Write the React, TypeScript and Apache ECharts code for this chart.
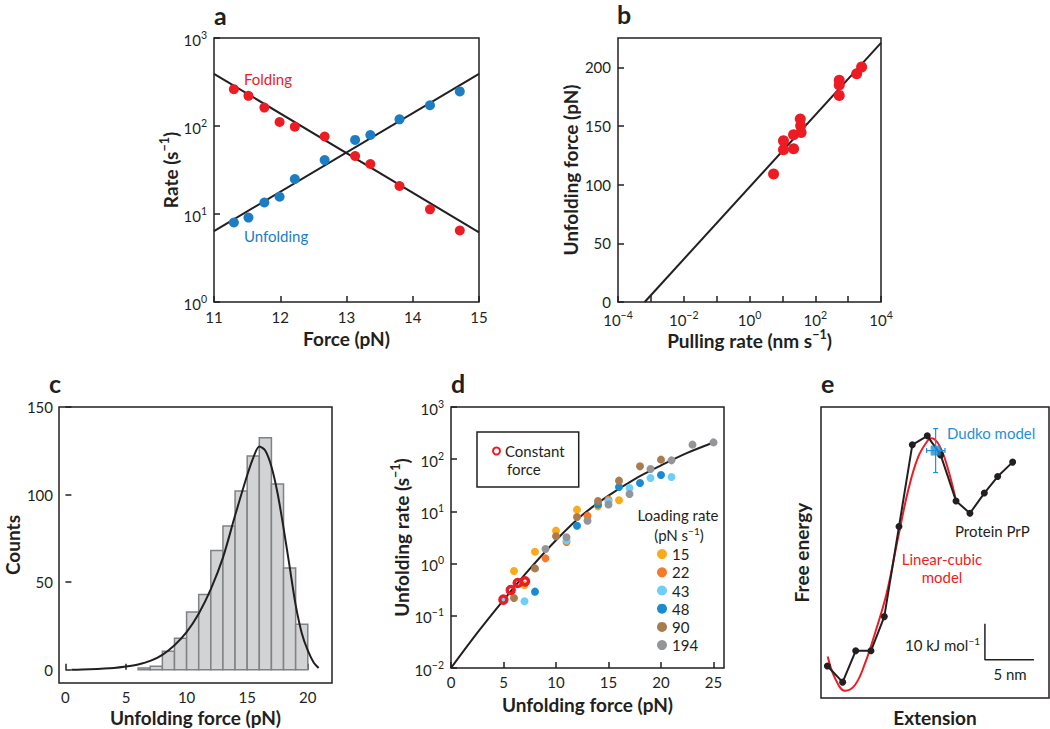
import React, { useEffect, useRef } from 'react';
import * as echarts from 'echarts';

const FONT = 'Lato';
const INK = '#231f20';
const RED = '#ed1c24';
const BLUE_A = '#1c7dc3';
const BLUE_E = '#1f8fd6';

// ---------- Panel a ----------
const aForce = [11.3, 11.52, 11.76, 11.99, 12.22, 12.67, 13.13, 13.36, 13.8, 14.26, 14.71];
const aFolding = [262, 220, 162, 111, 98, 76, 45.6, 37, 20.8, 11.3, 6.5];
const aUnfolding = [8.0, 9.1, 13.5, 15.7, 25, 41, 69.5, 79, 119, 172, 247];
const aFitForce = [11, 15];
const aFoldingFit = [392, 6.2];
const aUnfoldingFit = [6.4, 392];

// ---------- Panel b ----------
const bRate = [5.4, 10.8, 10.8, 21.9, 21.9, 35, 36, 37, 537, 537, 537, 1820, 2570];
const bForce = [109, 137.4, 129.7, 142.5, 130.6, 155.9, 150.2, 144.5, 189, 185, 176.1, 194.6, 200.3];
const bFitRate = [6.5e-4, 1e4];
const bFitForce = [0, 220.8];

// ---------- Panel c ----------
const cBinStart = [6, 7, 8, 9, 10, 11, 12, 13, 14, 15, 16, 17, 18, 19];
const cBinWidth = 1;
const cCounts = [1, 2, 10.5, 18, 33, 43, 68, 82, 102, 122, 132.5, 106, 58, 26];
const cFitForce = [0.5, 2, 4, 5, 6, 7, 8, 9, 10, 11, 12, 13, 14, 15, 15.5, 16, 16.5, 17, 17.5, 18, 18.5, 19, 19.5, 20, 20.5, 20.9];
const cFitCounts = [0, 0.3, 1, 1.8, 3, 5, 8.5, 14, 21.5, 32, 46, 64, 88, 111, 121, 127.5, 125, 116, 101, 81, 59, 37, 21, 11, 4, 1];

// ---------- Panel d ----------
const dCurveForce = [0, 2.5, 5, 7.5, 10, 12.5, 15, 17.5, 20, 22.5, 25];
const dCurveRate = [0.01, 0.047, 0.2, 0.79, 2.8, 8.5, 20, 41.7, 76, 132, 209];
const dLoadingRates = ['15', '22', '43', '48', '90', '194'];
const dColors = ['#fbaa19', '#f47a2a', '#6dcff6', '#1b8bd0', '#a97c50', '#939598'];
const d15Force = [6, 7, 8, 10, 12, 14, 16];
const d15Rate = [0.72, 0.39, 1.69, 4.28, 10.8, 12.5, 16.3];
const d22Force = [9, 11, 13, 15];
const d22Rate = [1.26, 2.59, 8.2, 16.8];
const d43Force = [5, 7, 11, 15, 17, 19, 21];
const d43Rate = [0.2, 0.19, 2.79, 15.6, 28, 43.6, 45.6];
const d48Force = [8, 12, 14, 16, 18, 20];
const d48Rate = [0.29, 5.3, 13.6, 29.3, 35, 49.8];
const d90Force = [6, 8, 10, 12, 14, 16, 18, 20];
const d90Rate = [0.22, 0.81, 3.33, 7.8, 15.8, 38.8, 73, 98];
const d194Force = [9, 11, 13, 15, 17, 19, 21, 23, 25];
const d194Rate = [1.9, 3.2, 6.6, 13.6, 21.5, 65, 95, 190, 210];
const dConstForce = [4.99, 5.69, 6.35, 7.05];
const dConstRate = [0.204, 0.312, 0.425, 0.457];

// ---------- Panel e ----------
const eXMax = 23.27; // nm shown in frame
const eYMax = 80.8; // kJ/mol shown in frame
const eProfileX = [0.65, 2.21, 3.54, 5.1, 6.46, 7.96, 9.32, 10.85, 12.21, 13.78, 15.2, 16.67, 18.03, 19.56];
const eProfileG = [8.9, 4.4, 13.1, 13.1, 22.6, 47.6, 70.3, 72.8, 67.5, 54.7, 51.3, 56.9, 61.5, 65.5];
const eModelX = [0.68, 1.43, 2.45, 3.47, 4.49, 5.51, 6.7, 7.89, 8.91, 9.93, 10.95, 11.3, 12.14, 12.99, 13.78];
const eModelG = [11.5, 5.5, 2.0, 3.6, 9.6, 18.0, 29.1, 44.8, 57.8, 67.0, 71.7, 72.1, 69.8, 63.3, 54.8];
const eDudko = [11.7, 68.7];
const eDudkoXErr = [10.78, 12.65];
const eDudkoYErr = [62.6, 74.8];
const eScaleBarX = [16.73, 16.73, 21.73];
const eScaleBarY = [20.6, 10.6, 10.6];

const zip = (xs: number[], ys: number[]) => xs.map((x, i) => [x, ys[i]]);

const TICK_FS = 15;
const NAME_FS = 19;
const TEXT_FS = 15;

const supText = (v: number) => {
  const e = Math.round(Math.log10(v));
  return `{b|10}{s|${e < 0 ? '\u2212' + -e : e}}`;
};
const labelRich = {
  b: { fontSize: TICK_FS, fontFamily: FONT, color: INK, lineHeight: 18, verticalAlign: 'bottom' },
  s: { fontSize: 10.5, fontFamily: FONT, color: INK, lineHeight: 10, verticalAlign: 'top' },
};
const nameRich = {
  n: { fontSize: NAME_FS, fontFamily: FONT, fontWeight: 'bold', color: INK, lineHeight: 22, verticalAlign: 'bottom' },
  s: { fontSize: 12.5, fontFamily: FONT, fontWeight: 'bold', color: INK, lineHeight: 12, verticalAlign: 'top' },
};
const textRich = {
  n: { fontSize: TEXT_FS, fontFamily: FONT, color: INK, lineHeight: 17, verticalAlign: 'bottom' },
  s: { fontSize: 10, fontFamily: FONT, color: INK, lineHeight: 9, verticalAlign: 'top' },
};

const tick = { show: true, inside: true, length: 6, lineStyle: { color: INK, width: 1.5 } };
const lbl = (extra: any = {}) => ({ color: INK, fontFamily: FONT, fontSize: TICK_FS, ...extra });
const nameStyle = { fontFamily: FONT, fontSize: NAME_FS, fontWeight: 'bold', color: INK, lineHeight: 22, rich: nameRich };
const noLine = { show: false };
const noSplit = { show: false };

function buildOption(): any {
  const gridBase = { show: true, borderColor: INK, borderWidth: 1.5, backgroundColor: 'transparent' };
  const grid = [
    { left: 214, top: 38, width: 265, height: 264 },
    { left: 618, top: 38, width: 263, height: 264 },
    { left: 49, top: 407, width: 283, height: 276 },
    { left: 451, top: 407, width: 273, height: 261 },
    { left: 821, top: 407, width: 228, height: 291 },
  ].map((g) => ({ ...gridBase, ...g }));

  const xAxis = [
    {
      gridIndex: 0, type: 'value', min: 11, max: 15, interval: 1,
      axisLine: noLine, axisTick: tick, splitLine: noSplit, axisLabel: lbl({ margin: 7 }),
      name: 'Force (pN)', nameLocation: 'middle', nameGap: 25, nameTextStyle: nameStyle,
    },
    {
      gridIndex: 1, type: 'log', logBase: 10, min: 1e-4, max: 1e4, splitNumber: 8,
      axisLine: noLine, axisTick: tick, splitLine: noSplit,
      axisLabel: lbl({
        margin: 7,
        formatter: (v: number) => (Math.round(Math.log10(v)) % 2 === 0 ? supText(v) : ''),
        rich: labelRich,
      }),
      name: '{n|Pulling rate (nm s}{s|\u22121}{n|)}', nameLocation: 'middle', nameGap: 25, nameTextStyle: nameStyle,
    },
    {
      gridIndex: 2, type: 'value', min: -0.53, max: 22, splitNumber: 5,
      axisLine: noLine, axisTick: tick, splitLine: noSplit,
      axisLabel: lbl({ margin: 6, showMinLabel: false, showMaxLabel: false }),
      name: 'Unfolding force (pN)', nameLocation: 'middle', nameGap: 23, nameTextStyle: nameStyle,
    },
    {
      gridIndex: 3, type: 'value', min: 0, max: 26, interval: 5,
      axisLine: noLine, axisTick: tick, splitLine: noSplit,
      axisLabel: lbl({ margin: 6, showMaxLabel: false }),
      name: 'Unfolding force (pN)', nameLocation: 'middle', nameGap: 25, nameTextStyle: nameStyle,
    },
    {
      gridIndex: 4, type: 'value', min: 0, max: eXMax,
      axisLine: noLine, axisTick: { show: false }, splitLine: noSplit, axisLabel: { show: false },
      name: 'Extension', nameLocation: 'middle', nameGap: 8, nameTextStyle: nameStyle,
    },
  ];

  const yAxis = [
    {
      gridIndex: 0, type: 'log', logBase: 10, min: 1, max: 1000, splitNumber: 3,
      axisLine: noLine, axisTick: tick, splitLine: noSplit,
      axisLabel: lbl({ margin: 7, formatter: supText, rich: labelRich }),
      name: '{n|Rate (s}{s|\u22121}{n|)}', nameLocation: 'middle', nameGap: 34, nameTextStyle: nameStyle,
    },
    {
      gridIndex: 1, type: 'value', min: 0, max: 225, interval: 50,
      axisLine: noLine, axisTick: tick, splitLine: noSplit,
      axisLabel: lbl({ margin: 7, showMaxLabel: false, lineHeight: 14 }),
      name: 'Unfolding force (pN)', nameLocation: 'middle', nameGap: 34, nameTextStyle: nameStyle,
    },
    {
      gridIndex: 2, type: 'value', min: -7.6, max: 150, splitNumber: 3,
      axisLine: noLine, axisTick: tick, splitLine: noSplit,
      axisLabel: lbl({ margin: 6, showMinLabel: false }),
      name: 'Counts', nameLocation: 'middle', nameGap: 30, nameTextStyle: nameStyle,
    },
    {
      gridIndex: 3, type: 'log', logBase: 10, min: 0.01, max: 1000, splitNumber: 5,
      axisLine: noLine, axisTick: tick, splitLine: noSplit,
      axisLabel: lbl({ margin: 7, formatter: supText, rich: labelRich }),
      name: '{n|Unfolding rate (s}{s|\u22121}{n|)}', nameLocation: 'middle', nameGap: 36, nameTextStyle: nameStyle,
    },
    {
      gridIndex: 4, type: 'value', min: 0, max: eYMax,
      axisLine: noLine, axisTick: { show: false }, splitLine: noSplit, axisLabel: { show: false },
      name: 'Free energy', nameLocation: 'middle', nameGap: 9, nameTextStyle: nameStyle,
    },
  ];

  const fitLine = (xi: number, data: number[][], extra: any = {}) => ({
    type: 'line', xAxisIndex: xi, yAxisIndex: xi, data, symbol: 'none',
    lineStyle: { color: INK, width: 2 }, silent: true, ...extra,
  });
  const dots = (xi: number, name: string, data: number[][], color: string, size: number, extra: any = {}) => ({
    type: 'scatter', name, xAxisIndex: xi, yAxisIndex: xi, data, symbolSize: size,
    itemStyle: { color, opacity: 1 }, z: 3, ...extra,
  });

  const dSeriesData = [
    zip(d15Force, d15Rate), zip(d22Force, d22Rate), zip(d43Force, d43Rate),
    zip(d48Force, d48Rate), zip(d90Force, d90Rate), zip(d194Force, d194Rate),
  ];

  const series: any[] = [
    // a
    fitLine(0, zip(aFitForce, aFoldingFit)),
    fitLine(0, zip(aFitForce, aUnfoldingFit)),
    dots(0, 'Folding', zip(aForce, aFolding), RED, 10),
    dots(0, 'Unfolding', zip(aForce, aUnfolding), BLUE_A, 10),
    // b
    fitLine(1, zip(bFitRate, bFitForce)),
    dots(1, 'Pulling', zip(bRate, bForce), RED, 11),
    // c
    {
      type: 'custom', xAxisIndex: 2, yAxisIndex: 2,
      data: cBinStart.map((s, i) => [s, s + cBinWidth, cCounts[i]]),
      encode: { x: [0, 1], y: 2 },
      renderItem: (params: any, api: any) => {
        const p0 = api.coord([api.value(0), 0]);
        const p1 = api.coord([api.value(1), api.value(2)]);
        return {
          type: 'rect',
          shape: { x: p0[0], y: p1[1], width: p1[0] - p0[0], height: p0[1] - p1[1] },
          style: { fill: '#d1d3d4', stroke: '#808285', lineWidth: 1.5 },
        };
      },
      z: 2,
    },
    fitLine(2, zip(cFitForce, cFitCounts), { smooth: 0.3, z: 3 }),
    // d
    fitLine(3, zip(dCurveForce, dCurveRate), { smooth: 0.3, z: 2 }),
    ...dLoadingRates.map((n, i) => dots(3, n, dSeriesData[i], dColors[i], 8)),
    dots(3, 'Constant force', zip(dConstForce, dConstRate), 'rgba(255,255,255,0)', 7, {
      itemStyle: { color: 'rgba(255,255,255,0)', borderColor: RED, borderWidth: 3.5, opacity: 1 },
      z: 5,
    }),
    // e
    {
      type: 'line', xAxisIndex: 4, yAxisIndex: 4, data: zip(eModelX, eModelG), symbol: 'none',
      smooth: 0.4, lineStyle: { color: RED, width: 2 }, z: 2,
    },
    {
      type: 'line', xAxisIndex: 4, yAxisIndex: 4, data: zip(eProfileX, eProfileG),
      symbol: 'circle', symbolSize: 7, itemStyle: { color: INK }, lineStyle: { color: INK, width: 2 }, z: 3,
    },
    {
      type: 'custom', xAxisIndex: 4, yAxisIndex: 4,
      data: [[eDudko[0], eDudko[1], eDudkoXErr[0], eDudkoXErr[1], eDudkoYErr[0], eDudkoYErr[1]]],
      renderItem: (params: any, api: any) => {
        const c = api.coord([api.value(0), api.value(1)]);
        const xl = api.coord([api.value(2), api.value(1)]);
        const xh = api.coord([api.value(3), api.value(1)]);
        const yl = api.coord([api.value(0), api.value(4)]);
        const yh = api.coord([api.value(0), api.value(5)]);
        const st = { stroke: BLUE_E, lineWidth: 1.2 };
        const cap = 2.5;
        return {
          type: 'group',
          children: [
            { type: 'line', shape: { x1: yl[0], y1: yl[1], x2: yh[0], y2: yh[1] }, style: st },
            { type: 'line', shape: { x1: c[0] - cap, y1: yl[1], x2: c[0] + cap, y2: yl[1] }, style: st },
            { type: 'line', shape: { x1: c[0] - cap, y1: yh[1], x2: c[0] + cap, y2: yh[1] }, style: st },
            { type: 'line', shape: { x1: xl[0], y1: c[1], x2: xh[0], y2: c[1] }, style: st },
            { type: 'line', shape: { x1: xl[0], y1: c[1] - cap, x2: xl[0], y2: c[1] + cap }, style: st },
            { type: 'line', shape: { x1: xh[0], y1: c[1] - cap, x2: xh[0], y2: c[1] + cap }, style: st },
          ],
        };
      },
      z: 4,
    },
    {
      type: 'scatter', name: 'Dudko model', xAxisIndex: 4, yAxisIndex: 4, data: [eDudko],
      symbol: 'rect', symbolSize: 10, itemStyle: { color: BLUE_E }, z: 5,
    },
    {
      type: 'line', xAxisIndex: 4, yAxisIndex: 4, data: zip(eScaleBarX, eScaleBarY), symbol: 'none',
      lineStyle: { color: INK, width: 1.5 }, z: 3,
    },
  ];

  const legend = [
    {
      data: ['Constant force'], left: 477, top: 432, orient: 'vertical',
      padding: [11, 14, 28, 15], borderColor: INK, borderWidth: 1.5,
      itemWidth: 7, itemHeight: 7, selectedMode: false,
      formatter: () => 'Constant',
      textStyle: { fontFamily: FONT, fontSize: TEXT_FS, color: INK, lineHeight: 16 },
    },
    {
      data: dLoadingRates, left: 657, top: 545, orient: 'vertical', padding: 0,
      itemWidth: 10, itemHeight: 10, itemGap: 0, selectedMode: false, icon: 'circle',
      textStyle: { fontFamily: FONT, fontSize: TEXT_FS, color: INK, lineHeight: 18.2 },
    },
  ];

  const t = (text: string, x: number, y: number, opts: any = {}) => ({
    type: 'text', z: 10,
    style: {
      text, x, y, fill: opts.fill || INK,
      font: opts.font || `${TEXT_FS}px ${FONT}`,
      textAlign: opts.align || 'left', textVerticalAlign: 'middle',
      rich: opts.rich,
    },
  });
  const letter = (s: string, x: number, y: number) => t(s, x, y, { font: `bold 25px ${FONT}` });

  const graphic = [
    letter('a', 214, 15),
    letter('b', 617, 14),
    letter('c', 49, 383),
    letter('d', 451, 383),
    letter('e', 821, 383),
    t('Folding', 244, 79, { fill: RED }),
    t('Unfolding', 244, 236, { fill: BLUE_A }),
    t('force', 507, 469),
    t('Loading rate', 678, 515, { align: 'center' }),
    t('{n|(pN s}{s|\u22121}{n|)}', 679, 534, { align: 'center', rich: textRich }),
    t('Dudko model', 947, 433, { fill: BLUE_E }),
    t('Protein PrP', 955, 531),
    t('Linear-cubic', 942, 559, { fill: RED, align: 'center' }),
    t('model', 942, 577, { fill: RED, align: 'center' }),
    t('{n|10 kJ mol}{s|\u22121}', 980, 644, { align: 'right', rich: textRich }),
    t('5 nm', 1010, 674, { align: 'center' }),
  ];

  return {
    animation: false,
    backgroundColor: '#ffffff',
    textStyle: { fontFamily: FONT },
    grid, xAxis, yAxis, series, legend, graphic,
  };
}

export default function App() {
  const ref = useRef<HTMLDivElement>(null);
  useEffect(() => {
    const chart = echarts.init(ref.current as HTMLDivElement, null, { renderer: 'svg' });
    chart.setOption(buildOption());
    return () => chart.dispose();
  }, []);
  return (
    <div
      ref={ref}
      style={{ position: 'absolute', left: 0, top: 0, width: 1050, height: 729, background: '#fff' }}
    />
  );
}
